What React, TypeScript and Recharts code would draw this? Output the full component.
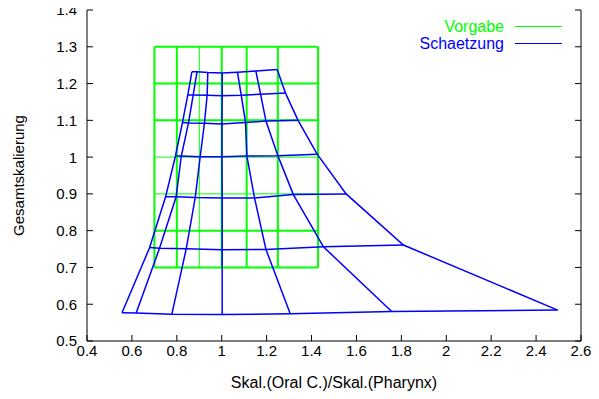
import { ScatterChart, Scatter, XAxis, YAxis, Legend, Label } from 'recharts';

const xTicks = [0.4, 0.6, 0.8, 1, 1.2, 1.4, 1.6, 1.8, 2, 2.2, 2.4, 2.6];
const yTicks = [0.5, 0.6, 0.7, 0.8, 0.9, 1, 1.1, 1.2, 1.3, 1.4];

// Vorgabe: regular target grid (x from 0.7 to 1/0.7, y from 0.7 to 1.3)
const gridX = [0.7, 0.8, 0.9, 1.0, 1.111, 1.25, 1.429];
const gridY = [0.7, 0.8, 0.9, 1.0, 1.1, 1.2, 1.3];

// Schaetzung: estimated mesh, one entry per row (top to bottom), 7 nodes per row
const meshX = [
  [0.867, 0.890, 0.938, 1.002, 1.070, 1.152, 1.247],
  [0.849, 0.873, 0.935, 1.002, 1.087, 1.173, 1.284],
  [0.825, 0.852, 0.923, 1.001, 1.106, 1.197, 1.340],
  [0.794, 0.820, 0.904, 1.001, 1.112, 1.250, 1.425],
  [0.750, 0.797, 0.882, 1.002, 1.146, 1.319, 1.554],
  [0.679, 0.723, 0.842, 1.002, 1.197, 1.453, 1.809],
  [0.556, 0.619, 0.778, 1.002, 1.305, 1.757, 2.496],
];
const meshY = [
  [1.232, 1.232, 1.230, 1.229, 1.231, 1.234, 1.238],
  [1.169, 1.169, 1.168, 1.167, 1.168, 1.171, 1.174],
  [1.094, 1.093, 1.092, 1.090, 1.094, 1.098, 1.100],
  [1.003, 1.003, 1.001, 1.001, 1.003, 1.004, 1.008],
  [0.892, 0.892, 0.890, 0.889, 0.889, 0.898, 0.900],
  [0.754, 0.752, 0.751, 0.748, 0.749, 0.756, 0.761],
  [0.577, 0.576, 0.573, 0.572, 0.574, 0.580, 0.584],
];

const legendItems = [
  { name: 'Vorgabe', color: '#00ff00' },
  { name: 'Schaetzung', color: '#0000ff' },
];

const GREEN = '#00ff00';
const BLUE = '#0000ff';
const TICK = 6;
const FONT = '"Liberation Sans", Arial, Helvetica, sans-serif';

const fmt = (v: number) => String(Number(v.toFixed(1)));

const gridLines = [
  ...gridX.map((x) => ({
    id: `gx${x}`,
    w: x === 0.9 ? 1 : 2,
    pts: [{ x, y: gridY[0] }, { x, y: gridY[gridY.length - 1] }],
  })),
  ...gridY.map((y) => ({
    id: `gy${y}`,
    w: y === 0.9 || y === 1.0 ? 1 : 2,
    pts: [{ x: gridX[0], y }, { x: gridX[gridX.length - 1], y }],
  })),
];

const meshLines = [
  ...meshX.map((row, i) => row.map((x, j) => ({ x, y: meshY[i][j] }))),
  ...meshX[0].map((_, j) => meshX.map((row, i) => ({ x: row[j], y: meshY[i][j] }))),
];

const BottomTick = (p: any) => (
  <g>
    <line x1={p.x} y1={p.y} x2={p.x} y2={p.y - TICK} stroke="#000" />
    <text x={p.x} y={p.y + 14.5} textAnchor="middle" fontSize={15} fill="#000">
      {fmt(p.payload.value)}
    </text>
  </g>
);

const TopTick = (p: any) => (
  <line x1={p.x} y1={p.y} x2={p.x} y2={p.y + TICK} stroke="#000" />
);

const LeftTick = (p: any) => (
  <g>
    <line x1={p.x} y1={p.y} x2={p.x + TICK} y2={p.y} stroke="#000" />
    <text x={p.x - 10} y={p.y} dy="0.36em" textAnchor="end" fontSize={15} fill="#000">
      {fmt(p.payload.value)}
    </text>
  </g>
);

const RightTick = (p: any) => (
  <line x1={p.x} y1={p.y} x2={p.x - TICK} y2={p.y} stroke="#000" />
);

const LegendBox = () => (
  <div style={{ fontFamily: FONT, fontSize: 16 }}>
    {legendItems.map((item) => (
      <div key={item.name} style={{ display: 'flex', alignItems: 'center', height: 17 }}>
        <span style={{ flex: 1, textAlign: 'right', color: item.color, lineHeight: '17px' }}>
          {item.name}
        </span>
        <svg width={47} height={17} style={{ marginLeft: 11 }}>
          <line x1={0} y1={8.5} x2={47} y2={8.5} stroke={item.color} strokeWidth={1.2} />
        </svg>
      </div>
    ))}
  </div>
);

export default function App() {
  return (
    <div style={{ fontFamily: FONT, margin: -8, width: 599, height: 399 }}>
      <ScatterChart width={599} height={399} margin={{ top: 10, right: 17, bottom: 0, left: 0 }}>
        <XAxis
          dataKey="x"
          type="number"
          domain={[0.4, 2.6]}
          ticks={xTicks}
          interval={0}
          allowDataOverflow
          height={58}
          tickSize={0}
          tickMargin={0}
          tickLine={false}
          axisLine={{ stroke: '#000' }}
          tick={<BottomTick />}
        >
          <Label
            content={(props: any) => {
              const vb = props.viewBox;
              return (
                <text x={vb.x + vb.width / 2} y={vb.y + 46.5} textAnchor="middle" fontSize={16} fill="#000">
                  Skal.(Oral C.)/Skal.(Pharynx)
                </text>
              );
            }}
          />
        </XAxis>
        <XAxis
          xAxisId="top"
          orientation="top"
          dataKey="x"
          type="number"
          domain={[0.4, 2.6]}
          ticks={xTicks}
          interval={0}
          allowDataOverflow
          height={0}
          tickSize={0}
          tickMargin={0}
          tickLine={false}
          axisLine={{ stroke: '#000' }}
          tick={<TopTick />}
        />
        <YAxis
          dataKey="y"
          type="number"
          domain={[0.5, 1.4]}
          ticks={yTicks}
          interval={0}
          allowDataOverflow
          width={87}
          tickSize={0}
          tickMargin={0}
          tickLine={false}
          axisLine={{ stroke: '#000' }}
          tick={<LeftTick />}
        >
          <Label
            content={(props: any) => {
              const vb = props.viewBox;
              const cx = vb.x + 18.5;
              const cy = vb.y + vb.height / 2;
              return (
                <text
                  x={cx}
                  y={cy}
                  dy="0.36em"
                  textAnchor="middle"
                  fontSize={15}
                  fill="#000"
                  transform={`rotate(-90, ${cx}, ${cy})`}
                >
                  Gesamtskalierung
                </text>
              );
            }}
          />
        </YAxis>
        <YAxis
          yAxisId="right"
          orientation="right"
          dataKey="y"
          type="number"
          domain={[0.5, 1.4]}
          ticks={yTicks}
          interval={0}
          allowDataOverflow
          width={1}
          tickSize={0}
          tickMargin={0}
          tickLine={false}
          axisLine={{ stroke: '#000' }}
          tick={<RightTick />}
        />
        {gridLines.map((g) => (
          <Scatter
            key={g.id}
            data={g.pts}
            line={{ stroke: GREEN, strokeWidth: g.w }}
            shape={() => <g />}
            legendType="none"
            isAnimationActive={false}
          />
        ))}
        {meshLines.map((pts, i) => (
          <Scatter
            key={`m${i}`}
            data={pts}
            line={{ stroke: BLUE, strokeWidth: 1.5 }}
            shape={() => <g />}
            legendType="none"
            isAnimationActive={false}
          />
        ))}
        <Legend
          layout="vertical"
          align="center"
          verticalAlign="middle"
          wrapperStyle={{ top: 17.5, left: 388, width: 174 }}
          content={() => <LegendBox />}
        />
      </ScatterChart>
    </div>
  );
}
